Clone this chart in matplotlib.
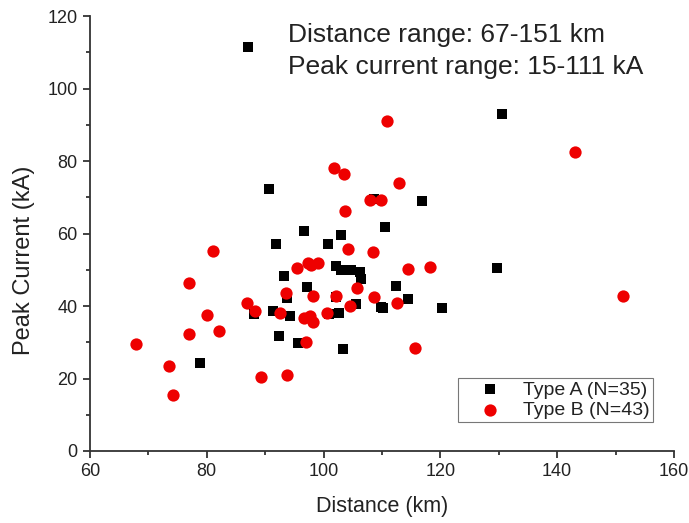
import matplotlib
matplotlib.use("Agg")
import matplotlib.pyplot as plt
from matplotlib.ticker import MultipleLocator

plt.rcParams["font.family"] = ["Liberation Sans", "DejaVu Sans"]

# ── DATA ────────────────────────────────────────────────────────────────────
type_a_dist = [87.1, 130.6, 90.7, 116.9, 108.6, 110.6, 96.7, 102.9, 91.9, 100.7,
               102.2, 102.9, 104.7, 106.3, 106.4, 93.3, 97.2, 112.4, 93.7, 105.6,
               114.4, 109.8, 110.2, 120.3, 91.3, 94.2, 101.0, 102.7, 92.3, 95.7,
               103.4, 129.7, 78.8, 88.0, 102.2]
type_a_peak = [111.4, 92.9, 72.4, 69.0, 69.5, 61.8, 60.8, 59.7, 57.2, 57.1,
               51.0, 49.9, 49.9, 49.4, 47.6, 48.4, 45.3, 45.4, 42.1, 40.5,
               41.9, 39.8, 39.5, 39.6, 38.6, 37.2, 37.7, 38.2, 31.7, 29.7,
               28.2, 50.6, 24.3, 37.8, 42.5]

type_b_dist = [67.9, 73.6, 74.2, 76.9, 76.9, 80.1, 81.0, 82.1, 86.9, 88.2,
               89.3, 93.8, 93.5, 92.6, 95.4, 97.4, 97.8, 99.1, 96.6, 97.7,
               98.2, 97.0, 98.2, 100.6, 102.1, 101.8, 103.5, 103.7, 104.1, 104.6,
               105.7, 107.9, 109.8, 108.4, 108.6, 110.9, 112.9, 112.6, 114.4, 115.6,
               118.3, 143.0, 151.3]
type_b_peak = [29.5, 23.4, 15.4, 46.4, 32.2, 37.5, 55.1, 33.2, 40.9, 38.7,
               20.5, 20.9, 43.5, 38.1, 50.6, 51.9, 51.3, 51.9, 36.6, 37.3,
               35.6, 30.1, 42.9, 38.1, 42.9, 78.1, 76.5, 66.2, 55.7, 40.0,
               45.0, 69.4, 69.4, 54.9, 42.5, 91.2, 74.1, 40.9, 50.1, 28.5,
               50.8, 82.4, 42.7]

TEXT_COLOR = "#222222"

# ── PLOT ────────────────────────────────────────────────────────────────────
fig = plt.figure(figsize=(6.89, 5.23), dpi=100)
ax = fig.add_axes([0.1306, 0.1377, 0.8476, 0.8313])

ax.scatter(type_a_dist, type_a_peak, marker="s", s=42, color="black",
           linewidths=0, label="Type A (N=35)", zorder=3)
ax.scatter(type_b_dist, type_b_peak, marker="o", s=78, color="#ee0000",
           linewidths=0, label="Type B (N=43)", zorder=4)

ax.set_xlim(60, 160)
ax.set_ylim(0, 120)
ax.xaxis.set_major_locator(MultipleLocator(20))
ax.xaxis.set_minor_locator(MultipleLocator(10))
ax.yaxis.set_major_locator(MultipleLocator(20))
ax.yaxis.set_minor_locator(MultipleLocator(10))

for side in ("top", "right"):
    ax.spines[side].set_visible(False)
for side in ("left", "bottom"):
    ax.spines[side].set_linewidth(1.3)
    ax.spines[side].set_color("#333333")

ax.tick_params(which="major", direction="out", length=5, width=1.3,
               colors="#333333", labelsize=13, labelcolor=TEXT_COLOR, pad=4)
ax.tick_params(which="minor", direction="out", length=3, width=1.3,
               colors="#333333")

ax.set_xlabel("Distance (km)", fontsize=15.5, color=TEXT_COLOR)
ax.xaxis.set_label_coords(0.5, -0.104)
ax.set_ylabel("Peak Current (kA)", fontsize=17, color=TEXT_COLOR)
ax.yaxis.set_label_coords(-0.094, 0.439)

ax.text(0.3385, 0.941, "Distance range: 67-151 km", transform=ax.transAxes,
        fontsize=19, color=TEXT_COLOR, va="baseline", ha="left")
ax.text(0.3385, 0.867, "Peak current range: 15-111 kA", transform=ax.transAxes,
        fontsize=19, color=TEXT_COLOR, va="baseline", ha="left")

leg = ax.legend(loc="lower right", bbox_to_anchor=(0.964, 0.0667),
                borderaxespad=0, fontsize=14, frameon=True, fancybox=False,
                handletextpad=0.2, borderpad=0.15, labelspacing=0.15,
                handlelength=3.0)
leg.get_frame().set_edgecolor("#555555")
leg.get_frame().set_linewidth(0.8)
for t in leg.get_texts():
    t.set_color(TEXT_COLOR)

fig.savefig("out.png", dpi=100)
